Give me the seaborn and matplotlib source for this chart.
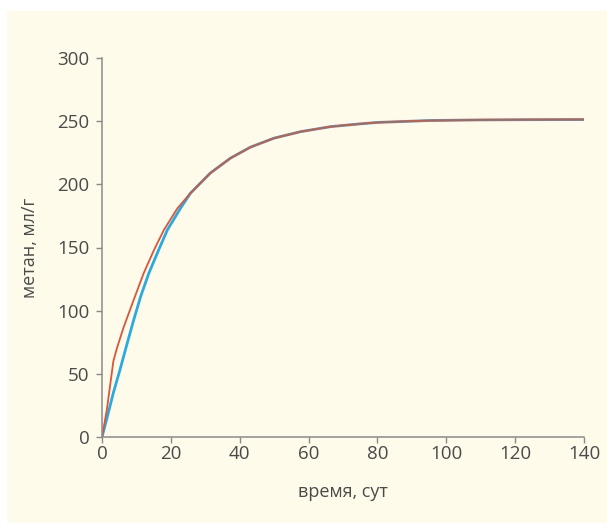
import matplotlib
matplotlib.use("Agg")
import matplotlib.pyplot as plt
import matplotlib.patches as mpatches
import seaborn as sns
import pandas as pd

# Data
blue_t = [0, 1.4, 3.3, 5.3, 7.2, 9.2, 11.2, 13.6, 16.6, 19.0, 22.9, 25.7, 31.5,
          37.3, 43.1, 49.9, 57.7, 66.5, 74.7, 80, 95, 110, 125, 140]
blue_y = [0, 14.5, 35, 54, 73, 92.6, 111, 129.6, 149, 164, 181.5, 193, 209,
          220.7, 229.4, 236.5, 241.7, 245.7, 247.8, 249, 250.5, 251, 251.2, 251.3]
red_t = [0, 1.4, 3.3, 4.3, 6.3, 9.2, 12.1, 15.1, 18.0, 21.9, 25.7, 31.5,
         37.3, 43.1, 49.9, 57.7, 66.5, 74.7, 80, 95, 110, 125, 140]
red_y = [0, 21.4, 60, 70, 87, 108.5, 129.6, 148, 164, 181, 193, 209,
         220.7, 229.4, 236.5, 241.7, 245.7, 247.8, 249, 250.5, 251, 251.2, 251.3]

x_ticks = [0, 20, 40, 60, 80, 100, 120, 140]
y_ticks = [0, 50, 100, 150, 200, 250, 300]
x_label = "время, сут"
y_label = "метан, мл/г"

df = pd.concat([
    pd.DataFrame({"t": blue_t, "v": blue_y, "s": "blue"}),
    pd.DataFrame({"t": red_t, "v": red_y, "s": "red"}),
])

sns.set_theme(style="ticks")
plt.rcParams["font.family"] = ["Open Sans", "DejaVu Sans"]

cream = "#fefbea"
fig = plt.figure(figsize=(6.07, 5.25), dpi=100, facecolor="white")
fig.patches.append(mpatches.Rectangle((7 / 607, 2 / 525), 600 / 607, 512 / 525,
                                      transform=fig.transFigure, facecolor=cream,
                                      edgecolor="none", zorder=-10))
ax = fig.add_axes([102 / 607, 1 - 437 / 525, 482 / 607, 379 / 525])
ax.set_facecolor(cream)

sns.lineplot(data=df[df.s == "blue"], x="t", y="v", color="#2aaae0", lw=2.0, ax=ax,
             estimator=None, sort=False)
sns.lineplot(data=df[df.s == "red"], x="t", y="v", color="#d9553b", lw=1.3, ax=ax,
             estimator=None, sort=False)

ax.set_xlim(0, 140)
ax.set_ylim(0, 300)
ax.set_xticks(x_ticks)
ax.set_yticks(y_ticks)
tc = "#4a4a4a"
ax.tick_params(axis="both", colors="#8a8a8a", labelcolor=tc, labelsize=13.5,
               length=4, width=1, direction="out")
ax.tick_params(axis="y", pad=5)
ax.tick_params(axis="x", pad=2)
for s in ["top", "right"]:
    ax.spines[s].set_visible(False)
for s in ["left", "bottom"]:
    ax.spines[s].set_color("#8a8a8a")
    ax.spines[s].set_linewidth(1.1)
ax.set_xlabel(x_label, fontsize=13, color=tc, labelpad=14)
ax.set_ylabel(y_label, fontsize=13, color=tc, labelpad=13)

fig.savefig("out.png", dpi=100, facecolor="white")
